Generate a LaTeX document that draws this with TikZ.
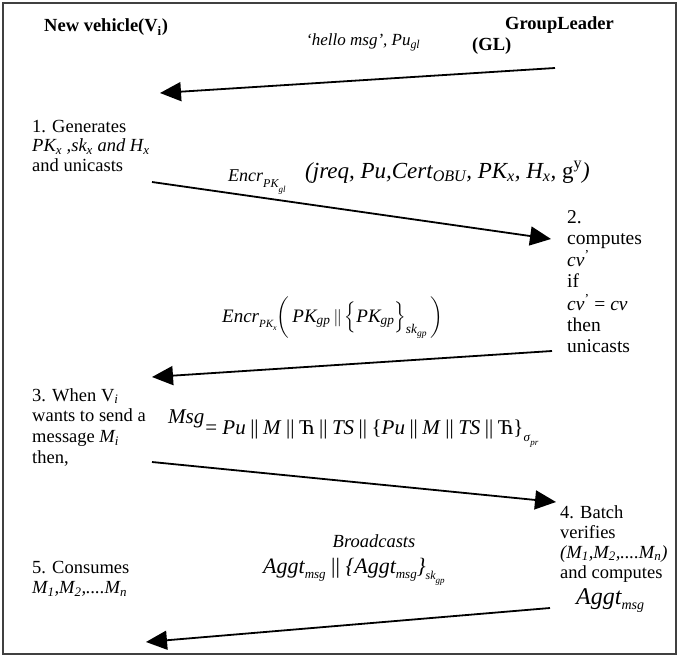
\documentclass[tikz,border=0pt]{standalone}
\usepackage{fontspec}
\usepackage{amsmath}
\setmainfont{Liberation Serif}
\usetikzlibrary{arrows.meta}
\newcommand{\blk}[1]{\begin{tabular}[t]{@{}l@{}}#1\end{tabular}}
\newcommand{\fsz}[2]{\fontsize{#1}{#2}\selectfont}
\newcommand{\dbar}{\hspace{4.5pt}\textup{||}\hspace{4.5pt}}
\begin{document}
\begin{tikzpicture}[x=1pt,y=-1pt,
 txt/.style={inner sep=0pt, anchor=base west, font=\fsz{18.5}{20.5}},
 hdr/.style={inner sep=0pt, anchor=base west, font=\fsz{18.5}{21}\bfseries},
 arr/.style={line width=1.8pt, -{Triangle[length=21pt,width=19pt]}},
]
\path[use as bounding box] (0,0) rectangle (679,658);
\draw[line width=1.4pt, black!75] (3,3) rectangle (676,654);

% headers
\node[hdr] (nv) at (44,32) {New vehicle(V\textsubscript{i})};
\node[hdr] (gl) at (505,30) {GroupLeader};
\node[hdr] (glb) at (472,51) {(GL)};
\node[txt, font=\fsz{17}{20}\itshape] (hello) at (306,46) {‘hello msg’, Pu\textsubscript{gl}};

\coordinate (a1s) at (555,68); \coordinate (a1e) at (160,93);
\draw[arr] (a1s) -- (a1e);

% step 1
\node[txt, font=\fsz{18.5}{19.5}] (s1) at (32,132) {\blk{1. Generates\\ \textit{PK\textsubscript{x} ,sk\textsubscript{x} and H\textsubscript{x}}\\ and unicasts}};
\node[txt, font=\fsz{18}{20}\itshape] (e1) at (228,181) {Encr\raisebox{-6pt}{\fsz{12}{12}PK\raisebox{-5pt}{\fsz{9}{9}gl}}};
\node[txt, font=\fsz{23}{25}\itshape] (jq) at (305,178) {(jreq, Pu,Cert\textsubscript{OBU}, PK\textsubscript{x}, H\textsubscript{x}, \textup{g\textsuperscript{y}})};

\coordinate (a2s) at (152,182); \coordinate (a2e) at (551,239);
\draw[arr] (a2s) -- (a2e);

% step 2
\node[txt, font=\fsz{19.5}{21}] (s2) at (567,223) {\blk{2.\\ computes\\ \textit{cv}\textsuperscript{'}\\ if\\ \textit{cv}\textsuperscript{'} = \textit{cv}\\ then\\ unicasts}};
\node[txt, font=\fsz{19}{21}] (e2) at (222,322) {\textit{Encr}\raisebox{-5pt}{\fsz{11}{11}\itshape PK\raisebox{-3pt}{\fsz{8}{8}x}}$\left(\rule[-15pt]{0pt}{38pt}\,\textit{PK}_{\textit{gp}}\,\|\left\{\rule[-8pt]{0pt}{25pt}\textit{PK}_{\textit{gp}}\right\}_{\textit{sk}_{\textit{gp}}}\,\right)$};

\coordinate (a3s) at (552,351); \coordinate (a3e) at (152,377);
\draw[arr] (a3s) -- (a3e);

% step 3
\node[txt, font=\fsz{18.5}{20.7}] (s3) at (32,401) {\blk{3. When V\textsubscript{\textit{i}}\\ wants to send a\\ message \textit{M\textsubscript{i}}\\ then,}};
\node[txt, font=\fsz{21}{23}] (msg) at (168,434) {\raisebox{11pt}{\textit{Msg}}\hspace{1pt}= \textit{Pu}\dbar\textit{M}\dbar Ћ\dbar\textit{TS}\dbar\{\textit{Pu}\dbar\textit{M}\dbar\textit{TS}\dbar Ћ\}\raisebox{-7pt}{\fsz{13}{13}\textit{σ}\raisebox{-4pt}{\fsz{9}{9}\textit{pr}}}};

\coordinate (a4s) at (152,462); \coordinate (a4e) at (556,502);
\draw[arr] (a4s) -- (a4e);

% step 4
\node[txt, font=\fsz{18.5}{20}] (s4) at (560,518) {\blk{4. Batch\\ verifies\\ \textit{(M\textsubscript{1},M\textsubscript{2},....M\textsubscript{n})}\\ and computes}};
\node[txt, font=\fsz{24}{26}\itshape] (ag1) at (576,604) {Aggt\raisebox{-5pt}{\fsz{14}{14}msg}};
\node[txt, font=\fsz{18.5}{20}\itshape, anchor=base] (bc) at (374,547) {Broadcasts};
\node[txt, font=\fsz{22}{24}\itshape] (ag2) at (263,573) {Aggt\raisebox{-5pt}{\fsz{13}{13}msg} \textup{||} \{Aggt\raisebox{-5pt}{\fsz{13}{13}msg}\}\raisebox{-6pt}{\fsz{12}{12}sk\raisebox{-4pt}{\fsz{9}{9}gp}}};

\coordinate (a5s) at (550,608); \coordinate (a5e) at (146,642);
\draw[arr] (a5s) -- (a5e);

% step 5
\node[txt] (s5) at (32,573) {\blk{5. Consumes\\ \textit{M\textsubscript{1},M\textsubscript{2},....M\textsubscript{n}}}};
\end{tikzpicture}
\end{document}
